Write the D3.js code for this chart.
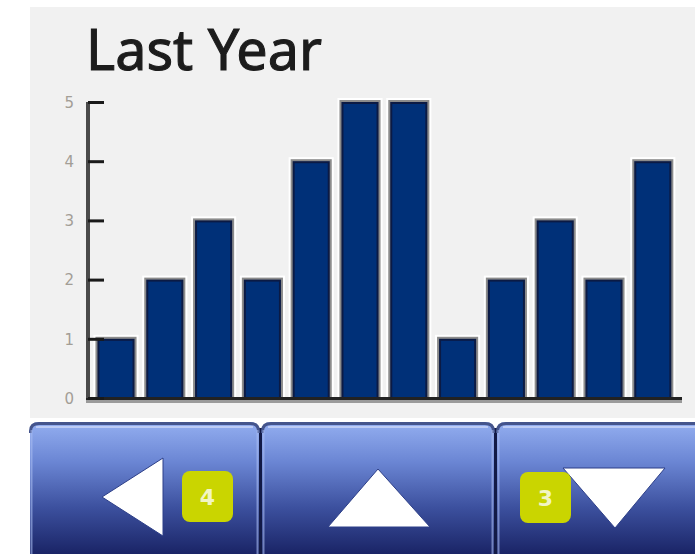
<!DOCTYPE html>
<html>
<head>
<meta charset="utf-8">
<script src="https://cdn.jsdelivr.net/npm/d3@7"></script>
<style>
  html, body { margin: 0; padding: 0; background: #ffffff; }
  svg { display: block; }
</style>
</head>
<body>
<svg id="chart" width="695" height="554"></svg>
<script>
// ---- data ----
const title = "Last Year";
const months = ["1","2","3","4","5","6","7","8","9","10","11","12"];
const values = [1, 2, 3, 2, 4, 5, 5, 1, 2, 3, 2, 4];
const yTicks = [0, 1, 2, 3, 4, 5];
const buttonBadges = ["4", "", "3"];

// ---- layout ----
const W = 695, H = 554;
const svg = d3.select("#chart");
const defs = svg.append("defs");

// panel background
svg.append("rect").attr("x", 30).attr("y", 7).attr("width", W - 30).attr("height", 411).attr("fill", "#f1f1f1");

const x = d3.scaleBand().domain(months).range([91.6, 677.2]).paddingInner(0.24).paddingOuter(0.12);
const y = d3.scaleLinear().domain([0, 5]).range([398, 102]);

// title
svg.append("text").attr("x", 86).attr("y", 70)
  .attr("font-family", "'Noto Sans', 'Open Sans', sans-serif")
  .attr("font-size", 57).attr("fill", "#1c1c1c")
  .attr("stroke", "#1c1c1c").attr("stroke-width", 1.1)
  .attr("textLength", 236).attr("lengthAdjust", "spacingAndGlyphs")
  .text(title);

// bars
const g = svg.append("g");
const bars = g.selectAll("g.bar").data(values).join("g").attr("class", "bar");
bars.append("rect")
  .attr("x", (d, i) => x(months[i]) - 4).attr("y", d => y(d) - 4)
  .attr("width", x.bandwidth() + 8).attr("height", d => y(0) - y(d) + 4)
  .attr("fill", "#ffffff");
bars.append("rect")
  .attr("x", (d, i) => x(months[i]) - 2).attr("y", d => y(d) - 2)
  .attr("width", x.bandwidth() + 4).attr("height", d => y(0) - y(d) + 2)
  .attr("fill", "#8c8c8c");
bars.append("rect")
  .attr("x", (d, i) => x(months[i])).attr("y", d => y(d))
  .attr("width", x.bandwidth()).attr("height", d => y(0) - y(d))
  .attr("fill", "#0b1a44");
bars.append("rect")
  .attr("x", (d, i) => x(months[i]) + 2).attr("y", d => y(d) + 2)
  .attr("width", x.bandwidth() - 4).attr("height", d => y(0) - y(d) - 2)
  .attr("fill", "#003078");

// baseline
svg.append("rect").attr("x", 86).attr("y", y(0) + 2).attr("width", 596).attr("height", 3).attr("fill", "#9a9a9a");
svg.append("rect").attr("x", 86).attr("y", y(0) - 1).attr("width", 596).attr("height", 3).attr("fill", "#222222");

// y axis
const yAxis = d3.axisRight(y).tickValues(yTicks).tickSize(16).tickFormat(d3.format("d"));
const ax = svg.append("g").attr("transform", "translate(88,0)").call(yAxis);
ax.select(".domain").attr("stroke", "#4a4a4a").attr("stroke-width", 4)
  .attr("d", `M0,${y(5)}V${y(0)}`);
ax.selectAll(".tick line").attr("stroke", "#1a1a1a").attr("stroke-width", 3);
ax.selectAll(".tick text")
  .attr("x", -14).attr("text-anchor", "end").attr("dy", "0.35em")
  .attr("font-family", "'DejaVu Sans', sans-serif").attr("font-size", 15)
  .attr("fill", "#a39e96");

// ---- buttons ----
const grad = defs.append("linearGradient").attr("id", "btn").attr("x1", 0).attr("y1", 0).attr("x2", 0).attr("y2", 1);
grad.append("stop").attr("offset", "0%").attr("stop-color", "#93aef0");
grad.append("stop").attr("offset", "30%").attr("stop-color", "#6b86d4");
grad.append("stop").attr("offset", "65%").attr("stop-color", "#3c509e");
grad.append("stop").attr("offset", "100%").attr("stop-color", "#1a2466");

const btns = [[30, 259], [262, 494], [497, 705]];
const bTop = 422, r = 9;
svg.append("rect").attr("x", 30).attr("y", bTop + 6).attr("width", W - 30).attr("height", H - bTop).attr("fill", "#121a46");
btns.forEach(([a, b]) => {
  const p = `M${a},${H} V${bTop + r} Q${a},${bTop} ${a + r},${bTop} H${b - r} Q${b},${bTop} ${b},${bTop + r} V${H} Z`;
  svg.append("path").attr("d", p).attr("fill", "url(#btn)");
  svg.append("path").attr("d", `M${a + 0.5},${bTop + r + 2} V${bTop + r} Q${a + 0.5},${bTop + 1.5} ${a + r},${bTop + 1.5} H${b - r} Q${b - 0.5},${bTop + 1.5} ${b - 0.5},${bTop + r} V${bTop + r + 2}`)
    .attr("fill", "none").attr("stroke", "#44548c").attr("stroke-width", 3);
  svg.append("line").attr("x1", a + 6).attr("x2", b - 6).attr("y1", bTop + 5).attr("y2", bTop + 5)
    .attr("stroke", "#bccbf5").attr("stroke-width", 2);
  svg.append("line").attr("x1", a + 1.5).attr("x2", a + 1.5).attr("y1", bTop + 8).attr("y2", H)
    .attr("stroke", "#a9bdf2").attr("stroke-opacity", 0.6).attr("stroke-width", 2);
  svg.append("line").attr("x1", b - 1.5).attr("x2", b - 1.5).attr("y1", bTop + 8).attr("y2", H)
    .attr("stroke", "#a9bdf2").attr("stroke-opacity", 0.6).attr("stroke-width", 2);
});

// arrows
const arrowFill = "#ffffff";
svg.append("path").attr("d", "M102,497 L163,458 L163,536 Z").attr("fill", arrowFill)
  .attr("stroke", "#2d3f88").attr("stroke-width", 1);
svg.append("path").attr("d", "M328,527 L378,469 L430,527 Z").attr("fill", arrowFill)
  .attr("stroke", "#2d3f88").attr("stroke-width", 1);
svg.append("path").attr("d", "M563,468 L665,468 L615,528 Z").attr("fill", arrowFill)
  .attr("stroke", "#2d3f88").attr("stroke-width", 1);

// badges
const badgePos = [[182, 471], null, [520, 472]];
badgePos.forEach((p, i) => {
  if (!p) return;
  svg.append("rect").attr("x", p[0]).attr("y", p[1]).attr("width", 51).attr("height", 51)
    .attr("rx", 8).attr("fill", "#cad500");
  svg.append("text").attr("x", p[0] + 25.5).attr("y", p[1] + 26).attr("dy", "0.36em")
    .attr("text-anchor", "middle").attr("font-family", "'DejaVu Sans', sans-serif")
    .attr("font-weight", "bold").attr("font-size", 22).attr("fill", "#f2f5c4")
    .text(buttonBadges[i]);
});
</script>
</body>
</html>
